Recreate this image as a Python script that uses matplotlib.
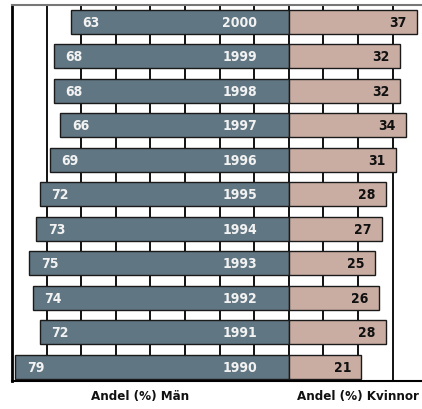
import matplotlib.pyplot as plt
import numpy as np

years = ["1990", "1991", "1992", "1993", "1994", "1995", "1996", "1997", "1998", "1999", "2000"]
men = [79, 72, 74, 75, 73, 72, 69, 66, 68, 68, 63]
women = [21, 28, 26, 25, 27, 28, 31, 34, 32, 32, 37]

men_color = "#607682"
women_color = "#c9ada3"
font = dict(family="DejaVu Sans", stretch="condensed", weight="bold")

fig = plt.figure(figsize=(4.22, 4.10), dpi=100)
ax = fig.add_axes([12 / 422, 28 / 410, 410 / 422, 376 / 410])

y = np.arange(len(years))
# grid lines every 10 %, drawn behind the bars
for gx in range(-70, 40, 10):
    ax.axvline(gx, color="#111111", lw=1.4, zorder=0)

ax.barh(y, [-m for m in men], height=0.7, color=men_color, edgecolor="#1a1a1a", lw=1.0, zorder=2)
ax.barh(y, women, height=0.7, color=women_color, edgecolor="#1a1a1a", lw=1.0, zorder=2)

for yi, yr, m, w in zip(y, years, men, women):
    ax.text(-m + 3.3, yi, str(m), color="#f2f2f2", fontsize=10, ha="left", va="center", zorder=3, **font)
    ax.text(-9.2, yi, yr, color="#f2f2f2", fontsize=10, ha="right", va="center", zorder=3, **font)
    ax.text(w - 3.0, yi, str(w), color="#111111", fontsize=10, ha="right", va="center", zorder=3, **font)

ax.set_xlim(-80, 38.5)
ax.set_ylim(-0.41, 10.49)
ax.set_xticks([])
ax.set_yticks([])
ax.spines["right"].set_visible(False)
ax.spines["left"].set_linewidth(2.0)
ax.spines["bottom"].set_linewidth(1.5)
ax.spines["top"].set_linewidth(1.5)
ax.spines["top"].set_color("#777777")

fig.text(140 / 422, 1 - 397 / 410, "Andel (%) Män", fontsize=9.5, ha="center", va="center", color="#111111", **font)
fig.text(358 / 422, 1 - 397 / 410, "Andel (%) Kvinnor", fontsize=9.5, ha="center", va="center", color="#111111", **font)

fig.savefig("out.png", dpi=100)
